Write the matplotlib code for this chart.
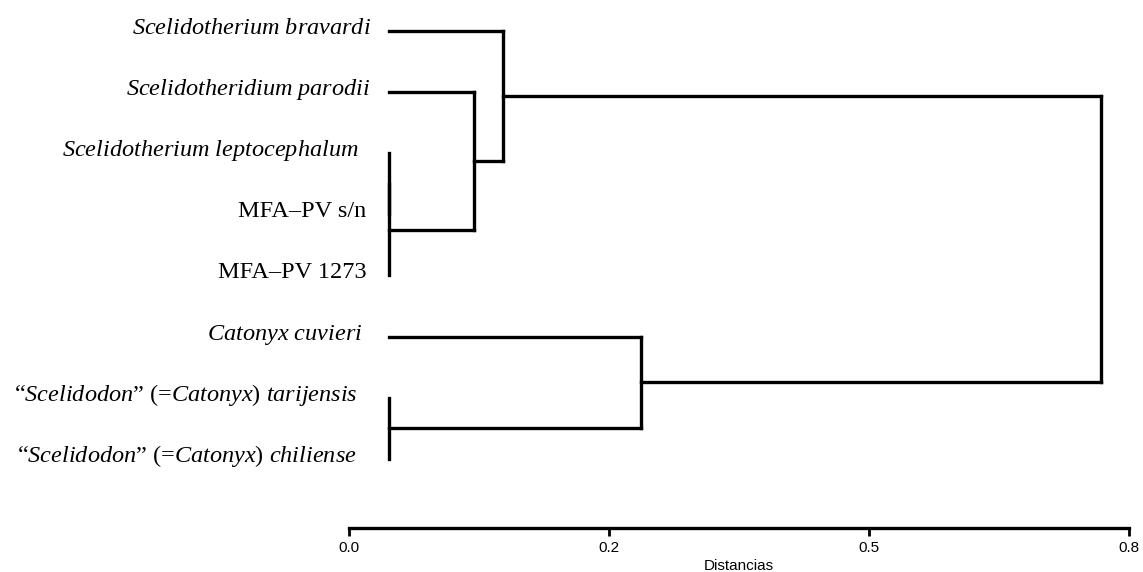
import matplotlib
matplotlib.use("Agg")
from matplotlib import pyplot as plt
from matplotlib.transforms import offset_copy

plt.rcParams['font.family'] = ['Liberation Serif', 'DejaVu Serif']
plt.rcParams['mathtext.fontset'] = 'custom'
plt.rcParams['mathtext.rm'] = 'Liberation Serif'
plt.rcParams['mathtext.it'] = 'Liberation Serif:italic'

etiquetas = [
    r'$\it{Scelidotherium}$ $\it{bravardi}$',
    r'$\it{Scelidotheridium}$ $\it{parodii}$',
    r'$\it{Scelidotherium}$ $\it{leptocephalum}$',
    'MFA–PV s/n',
    'MFA–PV 1273',
    r'$\it{Catonyx}$ $\it{cuvieri}$',
    r'“$\it{Scelidodon}$” (=$\it{Catonyx}$) $\it{tarijensis}$',
    r'“$\it{Scelidodon}$” (=$\it{Catonyx}$) $\it{chiliense}$',
]
h_hoja = 0.038
# (nodo a, nodo b, altura) ; nodos 0-7 hojas, 8.. uniones
uniones = [
    (2, 3, 0.038),
    (8, 4, 0.038),
    (1, 9, 0.120),
    (0, 10, 0.148),
    (6, 7, 0.038),
    (5, 12, 0.281),
    (11, 13, 0.723),
]
ticks = [0.0, 0.25, 0.5, 0.75]
# separacion (px) entre texto y la linea, por etiqueta
sep = [18, 18, 30, 22, 22, 26, 31, 32]

W, H = 1143, 572
fig = plt.figure(figsize=(W / 100, H / 100), dpi=100)
ax = fig.add_axes([349 / W, 1 - 528 / H, (1129 - 349) / W, (528 - 10) / H])
ax.set_xlim(0, 0.75)
ax.set_ylim(8.13, -0.34)

pos_y = list(range(len(etiquetas)))
alt = [h_hoja] * len(etiquetas)
for a, b, h in uniones:
    ax.plot([h, h], [pos_y[a], pos_y[b]], color='black', lw=2.4, solid_capstyle='projecting')
    for n in (a, b):
        if alt[n] < h:
            ax.plot([alt[n], h], [pos_y[n], pos_y[n]], color='black', lw=2.4,
                    solid_capstyle='projecting')
    pos_y.append((pos_y[a] + pos_y[b]) / 2)
    alt.append(h)

for i, lab in enumerate(etiquetas):
    tr = offset_copy(ax.transData, fig=fig, x=-sep[i], y=-3, units='dots')
    ax.text(h_hoja, i, lab, transform=tr, ha='right', va='baseline', fontsize=17.5)

for s in ['top', 'right', 'left']:
    ax.spines[s].set_visible(False)
ax.spines['bottom'].set_linewidth(2.4)
ax.set_yticks([])
ax.set_xticks(ticks)
ax.set_xticklabels(['%.1f' % t for t in ticks], family=['Liberation Sans', 'DejaVu Sans'],
                   fontsize=11)
ax.tick_params(axis='x', length=6, width=2, pad=3)
ax.set_xlabel('Distancias', family=['Liberation Sans', 'DejaVu Sans'], fontsize=11,
              labelpad=3)

fig.savefig('out.png', dpi=100)
